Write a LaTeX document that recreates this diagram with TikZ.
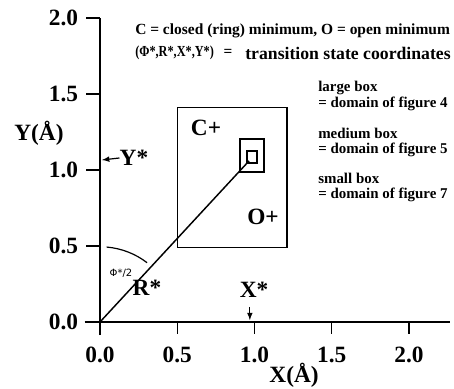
\documentclass[tikz,border=0pt]{standalone}
\usepackage{fontspec}
\setmainfont{Liberation Serif}
\newfontfamily\anglefont{DejaVu Sans}
\usetikzlibrary{positioning}

\begin{document}
\begin{tikzpicture}[x=115.875pt,y=114pt,>=latex,
  lbl/.style={font=\fontsize{17.5}{20}\selectfont\bfseries,inner sep=0pt},
  note/.style={font=\fontsize{11.5}{13}\selectfont\bfseries,inner sep=0pt,align=left},
  boxnote/.style={font=\fontsize{11.2}{11.6}\selectfont\bfseries,inner sep=0pt,align=left},
  axis/.style={line width=1.1pt},
  box/.style={draw,line width=0.9pt}]
  \useasboundingbox (-0.6472,-0.4408) rectangle (2.2913,2.1184);
  % axes
  \coordinate (o) at (0,0);
  \draw[axis] (-0.1,0) -- (2.265,0);
  \draw[axis] (0,-0.086) -- (0,2);
  \foreach \v/\n in {0.0/0,0.5/1,1.0/2,1.5/3,2.0/4} {
    \draw[axis] (-0.09,\v) -- (0,\v);
    \node[lbl,anchor=east] (y\n) at (-0.14,\v) {\v};
    \node[lbl] (x\n) at (\v,-0.217) {\v};
  }
  \foreach \v in {0.5,1.0,1.5,2.0}
    \draw[axis] (\v,0) -- (\v,-0.08);
  \node[lbl] (ylab) at (-0.395,1.243) {Y(Å)};
  \node[lbl] (xlab) at (1.256,-0.352) {X(Å)};
  % domains
  \draw[box] (0.5,0.49) rectangle (1.21,1.41);
  \draw[box] (0.906,0.987) rectangle (1.061,1.204);
  \draw[box] (0.951,1.046) rectangle (1.016,1.125);
  \node[lbl] (cmin) at (0.686,1.276) {C+};
  \node[lbl] (omin) at (1.055,0.691) {O+};
  % transition state
  \coordinate (ts) at (0.965,1.06);
  \draw[axis] (o) -- (ts);
  \draw[line width=0.9pt] (85:0.495) arc[start angle=85,end angle=52,radius=0.495];
  \node[font=\anglefont\fontsize{7.5}{9}\selectfont,inner sep=0pt] (phi) at (0.136,0.322) {Φ*/2};
  \node[lbl] (rstar) at (0.304,0.224) {R*};
  \node[lbl] (ystar) at (0.22,1.079) {Y*};
  \coordinate (yax) at (0.013,1.066);
  \draw[->,line width=0.9pt] (ystar.west) -- (yax);
  \node[lbl] (xstar) at (0.997,0.21) {X*};
  \coordinate (xtail) at (0.97,0.10);
  \coordinate (xax) at (0.97,0.012);
  \draw[->,line width=0.9pt] (xtail) -- (xax);
  % legend
  \node[note,anchor=west] (leg1) at (0.2265,1.914) {\resizebox{236pt}{!}{C = closed (ring) minimum, O = open minimum}};
  \node[note,anchor=west] (leg2) at (0.2265,1.770) {\scalebox{0.8}[1]{(Φ*,R*,X*,Y*)}};
  \node[note] (eq) at (0.829,1.770) {=};
  \node[note,anchor=west] (leg3) at (0.939,1.770) {\resizebox{154pt}{!}{transition state coordinates}};
  \node[boxnote,anchor=west] (large) at (1.411,1.487) {large box\\= domain of figure 4};
  \node[boxnote,anchor=west] (medium) at (1.411,1.181) {medium box\\= domain of figure 5};
  \node[boxnote,anchor=west] (small) at (1.411,0.885) {small box\\= domain of figure 7};
\end{tikzpicture}
\end{document}
